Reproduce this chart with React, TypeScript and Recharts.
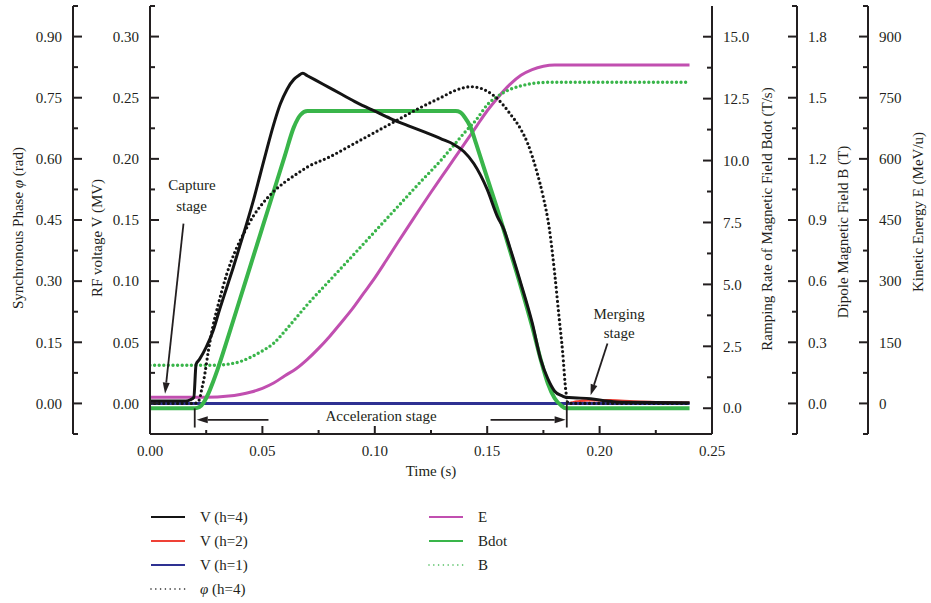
import { ComposedChart, Line, XAxis, YAxis, Legend, ReferenceLine, ReferenceDot } from 'recharts'

const INK = '#231f20'
const FONT = "'Liberation Serif', 'DejaVu Serif', serif"

// axis ticks (major); minor ticks sit halfway between
const TIME_TICKS = [0, 0.05, 0.1, 0.15, 0.2, 0.25]
const VOLT_TICKS = [0, 0.05, 0.1, 0.15, 0.2, 0.25, 0.3]
const PHASE_TICKS = [0, 0.15, 0.3, 0.45, 0.6, 0.75, 0.9]
const BDOT_TICKS = [0, 2.5, 5, 7.5, 10, 12.5, 15]
const FIELD_TICKS = [0, 0.3, 0.6, 0.9, 1.2, 1.5, 1.8]
const ENERGY_TICKS = [0, 150, 300, 450, 600, 750, 900]

// V (h=4), MV
const V4_T = [0, 0.016, 0.018, 0.0195, 0.0205, 0.022, 0.025, 0.028, 0.031, 0.034, 0.037, 0.04, 0.043, 0.046, 0.049, 0.052, 0.055, 0.058, 0.061, 0.064, 0.066, 0.068, 0.07, 0.077, 0.085, 0.092, 0.1, 0.107, 0.115, 0.122, 0.13, 0.135, 0.1396, 0.1441, 0.15, 0.1545, 0.1575, 0.16, 0.165, 0.17, 0.1738, 0.177, 0.18, 0.1835, 0.185, 0.19, 0.196, 0.2035, 0.21, 0.24]
const V4 = [0.002, 0.002, 0.003, 0.005, 0.032, 0.036, 0.046, 0.059, 0.077, 0.094, 0.111, 0.129, 0.147, 0.166, 0.187, 0.208, 0.228, 0.245, 0.257, 0.265, 0.268, 0.27, 0.268, 0.261, 0.253, 0.246, 0.239, 0.233, 0.227, 0.222, 0.216, 0.212, 0.206, 0.196, 0.175, 0.153, 0.142, 0.128, 0.098, 0.066, 0.036, 0.02, 0.01, 0.006, 0.005, 0.0045, 0.0038, 0.002, 0.001, 0.0005]

// V (h=2), MV
const V2_T = [0, 0.185, 0.19, 0.196, 0.205, 0.215, 0.225, 0.24]
const V2 = [0, 0, 0.0015, 0.0025, 0.0025, 0.0015, 0.001, 0.0005]

// V (h=1), MV
const V1_T = [0, 0.24]
const V1 = [0, 0]

// synchronous phase (h=4), rad
const PHI_T = [0, 0.02, 0.021, 0.022, 0.023, 0.024, 0.026, 0.028, 0.03, 0.034, 0.038, 0.042, 0.046, 0.05, 0.055, 0.06, 0.065, 0.07, 0.08, 0.09, 0.1, 0.11, 0.12, 0.13, 0.135, 0.14, 0.1426, 0.145, 0.15, 0.155, 0.16, 0.165, 0.168, 0.172, 0.175, 0.1775, 0.18, 0.182, 0.1835, 0.185, 0.186, 0.24]
const PHI = [0, 0, 0.003, 0.01, 0.035, 0.06, 0.13, 0.19, 0.235, 0.315, 0.375, 0.42, 0.46, 0.49, 0.52, 0.543, 0.562, 0.58, 0.605, 0.635, 0.665, 0.695, 0.725, 0.752, 0.766, 0.775, 0.777, 0.776, 0.766, 0.745, 0.712, 0.672, 0.638, 0.57, 0.505, 0.434, 0.32, 0.21, 0.13, 0.03, 0, 0]

// kinetic energy, MeV/u
const E_T = [0, 0.02, 0.03, 0.035, 0.04, 0.045, 0.05, 0.055, 0.06, 0.065, 0.07, 0.075, 0.08, 0.085, 0.09, 0.095, 0.1, 0.105, 0.11, 0.115, 0.12, 0.125, 0.13, 0.135, 0.14, 0.145, 0.15, 0.155, 0.16, 0.165, 0.17, 0.175, 0.18, 0.24]
const E = [15, 15, 16, 18, 22, 28, 37, 50, 68, 85, 108, 135, 165, 198, 232, 270, 308, 350, 393, 435, 477, 518, 558, 598, 638, 678, 718, 752, 782, 805, 819, 827, 830, 830]

// Bdot, T/s
const BDOT_T = [0, 0.02, 0.022, 0.024, 0.026, 0.028, 0.03, 0.035, 0.04, 0.045, 0.05, 0.055, 0.06, 0.064, 0.067, 0.07, 0.136, 0.138, 0.14, 0.1426, 0.145, 0.15, 0.155, 0.16, 0.165, 0.17, 0.174, 0.177, 0.18, 0.183, 0.185, 0.24]
const BDOT = [0, 0, 0.05, 0.25, 0.6, 1.05, 1.55, 2.95, 4.4, 5.85, 7.3, 8.75, 10.2, 11.35, 11.85, 12, 12, 11.95, 11.75, 11.35, 10.7, 9.3, 7.9, 6.4, 4.9, 3.3, 1.9, 1.0, 0.4, 0.1, 0, 0]

// dipole field B, T
const B_T = [0, 0.028, 0.03, 0.035, 0.04, 0.045, 0.05, 0.055, 0.06, 0.065, 0.07, 0.08, 0.09, 0.1, 0.11, 0.12, 0.13, 0.135, 0.14, 0.145, 0.15, 0.155, 0.16, 0.165, 0.17, 0.175, 0.18, 0.24]
const B = [0.187, 0.187, 0.188, 0.193, 0.205, 0.228, 0.258, 0.295, 0.355, 0.42, 0.485, 0.604, 0.723, 0.843, 0.963, 1.083, 1.2, 1.265, 1.33, 1.39, 1.465, 1.51, 1.54, 1.558, 1.57, 1.575, 1.576, 1.576]

const pairs = (ts: number[], vs: number[]) => ts.map((t, i) => ({ t, v: vs[i] }))

// axis ids are sorted by name when stacked, so the prefix sets the order (nearest the plot first)
const AX_VOLT = 'l1_volt'
const AX_PHASE = 'l2_phase'
const AX_BDOT = 'r1_bdot'
const AX_FIELD = 'r2_field'
const AX_ENERGY = 'r3_energy'

const SERIES = [
  { id: 'v2', name: 'V (h=2)', axis: AX_VOLT, data: pairs(V2_T, V2), color: '#ef4136', width: 2.5 },
  { id: 'v1', name: 'V (h=1)', axis: AX_VOLT, data: pairs(V1_T, V1), color: '#2e3192', width: 3 },
  { id: 'e', name: 'E', axis: AX_ENERGY, data: pairs(E_T, E), color: '#c14fb0', width: 3 },
  { id: 'b', name: 'B', axis: AX_FIELD, data: pairs(B_T, B), color: '#39b54a', width: 3.4, dots: true },
  { id: 'bdot', name: 'Bdot', axis: AX_BDOT, data: pairs(BDOT_T, BDOT), color: '#39b54a', width: 4 },
  { id: 'v4', name: 'V (h=4)', axis: AX_VOLT, data: pairs(V4_T, V4), color: '#141414', width: 3 },
  { id: 'phi', name: 'φ (h=4)', axis: AX_PHASE, data: pairs(PHI_T, PHI), color: '#141414', width: 3.2, dots: true },
]

const LEGEND_LEFT = ['v4', 'v2', 'v1', 'phi']
const LEGEND_RIGHT = ['e', 'bdot', 'b']

function withMinor(majors: number[], domain: number[]) {
  const half = (majors[1] - majors[0]) / 2
  const all = [majors[0] - half]
  majors.forEach((m) => all.push(m, m + half))
  return all.filter((v) => v >= domain[0] - 1e-9 && v <= domain[1] + 1e-9)
}

const isMajor = (majors: number[], v: number) => majors.some((m) => Math.abs(m - v) < 1e-9)

const yTick = (side: 'left' | 'right', majors: number[], digits: number) => (props: any) => {
  const { x, y, payload } = props
  const v = payload.value
  const major = isMajor(majors, v)
  const dir = side === 'left' ? 1 : -1
  return (
    <g>
      <line x1={x} y1={y} x2={x + dir * (major ? 9 : 5)} y2={y} stroke={INK} strokeWidth={2} />
      {major && (
        <text
          x={side === 'left' ? x - 11 : x + 11}
          y={y}
          dy="0.35em"
          textAnchor={side === 'left' ? 'end' : 'start'}
          fontSize={15}
          fontFamily={FONT}
          fill={INK}
        >
          {v.toFixed(digits)}
        </text>
      )}
    </g>
  )
}

const xTick = (props: any) => {
  const { x, y, payload } = props
  const major = isMajor(TIME_TICKS, payload.value)
  return (
    <g>
      <line x1={x} y1={y} x2={x} y2={y - (major ? 8 : 4)} stroke={INK} strokeWidth={2} />
      {major && (
        <text x={x} y={y + 17} dy="0.35em" textAnchor="middle" fontSize={15} fontFamily={FONT} fill={INK}>
          {payload.value.toFixed(2)}
        </text>
      )}
    </g>
  )
}

const axisTitle = (text: any, dx: number, dy: number) => (props: any) => {
  const vb = props.viewBox
  const cx = vb.x + dx
  const cy = vb.y + vb.height / 2 + dy
  return (
    <text
      x={cx}
      y={cy}
      transform={`rotate(-90 ${cx} ${cy})`}
      textAnchor="middle"
      dominantBaseline="central"
      fontSize={15}
      fontFamily={FONT}
      fill={INK}
    >
      {text}
    </text>
  )
}

const Arrow = (props: any) => {
  const { x1, y1, x2, y2 } = props
  const a = Math.atan2(y2 - y1, x2 - x1)
  const len = 11
  const w = 3.5
  const bx = x2 - len * Math.cos(a)
  const by = y2 - len * Math.sin(a)
  const pts = [
    [x2, y2],
    [bx + w * Math.sin(a), by - w * Math.cos(a)],
    [bx - w * Math.sin(a), by + w * Math.cos(a)],
  ]
  return (
    <g>
      <line x1={x1} y1={y1} x2={bx} y2={by} stroke={INK} strokeWidth={1.8} />
      <polygon points={pts.map((p) => p.join(',')).join(' ')} fill={INK} />
    </g>
  )
}

const Bar = (props: any) => <line x1={props.x1} y1={props.y1} x2={props.x2} y2={props.y2} stroke={INK} strokeWidth={1.8} />

// annotations in data units (time, MV)
const ARROWS = [
  [[0.0149, 0.147], [0.0067, 0.008]],
  [[0.0527, -0.0134], [0.0208, -0.0134]],
  [[0.1515, -0.0134], [0.1849, -0.0134]],
  [[0.2035, 0.049], [0.196, 0.0066]],
]
const BARS = [
  [[0.0199, -0.0041], [0.0199, -0.0197]],
  [[0.1854, 0.0025], [0.1854, -0.0197]],
]
const NOTES = [
  { t: 0.0187, v: 0.1787, text: 'Capture' },
  { t: 0.0185, v: 0.162, text: 'stage' },
  { t: 0.1028, v: -0.0098, text: 'Acceleration stage' },
  { t: 0.2087, v: 0.0735, text: 'Merging' },
  { t: 0.2087, v: 0.0578, text: 'stage' },
]

const noteShape = (text: string) => (p: any) => (
  <text x={p.cx} y={p.cy} dy="0.35em" textAnchor="middle" fontSize={15} fontFamily={FONT} fill={INK}>
    {text}
  </text>
)

const LegendBox = () => {
  const find = (id: string) => SERIES.find((s) => s.id === id)!
  const row = (id: string, i: number, x0: number) => {
    const s = find(id)
    const y = 17 + i * 24
    return (
      <g key={id}>
        <line
          x1={x0}
          y1={y}
          x2={x0 + 34}
          y2={y}
          stroke={s.color}
          strokeWidth={s.dots ? 1.6 : 2}
          strokeDasharray={s.dots ? '0 4.8' : undefined}
          strokeLinecap={s.dots ? 'round' : 'butt'}
        />
        <text x={x0 + 49} y={y} dy="0.35em" fontSize={15} fontFamily={FONT} fill={INK}>
          {id === 'phi' ? (
            <>
              <tspan fontStyle="italic">φ</tspan> (h=4)
            </>
          ) : (
            s.name
          )}
        </text>
      </g>
    )
  }
  return (
    <svg width={931} height={100}>
      {LEGEND_LEFT.map((id, i) => row(id, i, 151))}
      {LEGEND_RIGHT.map((id, i) => row(id, i, 429))}
    </svg>
  )
}

export default function App() {
  const voltDomain = [-0.025, 0.325]
  const phaseDomain = [-0.075, 0.975]
  const bdotDomain = [-1.04, 16.24]
  const fieldDomain = [-0.15, 1.95]
  const energyDomain = [-75, 975]
  const timeDomain = [0, 0.25]

  return (
    <div style={{ position: 'absolute', left: 0, top: 0, fontFamily: FONT, background: '#fff' }}>
      <ComposedChart width={931} height={603} margin={{ top: 6, right: 0, bottom: 119, left: 0 }}>
        <XAxis
          dataKey="t"
          type="number"
          domain={timeDomain}
          allowDataOverflow
          ticks={withMinor(TIME_TICKS, timeDomain)}
          interval={0}
          tick={xTick}
          tickLine={false}
          tickSize={0}
          tickMargin={0}
          height={50}
          axisLine={{ stroke: INK, strokeWidth: 2 }}
          label={(p: any) => (
            <text
              x={p.viewBox.x + p.viewBox.width / 2}
              y={p.viewBox.y + 37}
              dy="0.35em"
              textAnchor="middle"
              fontSize={15}
              fontFamily={FONT}
              fill={INK}
            >
              Time (s)
            </text>
          )}
        />
        <XAxis
          xAxisId="top"
          orientation="top"
          type="number"
          domain={timeDomain}
          height={0}
          tick={false}
          tickLine={false}
          axisLine={{ stroke: INK, strokeWidth: 2 }}
        />
        <YAxis
          yAxisId={AX_VOLT}
          orientation="left"
          type="number"
          width={77}
          domain={voltDomain}
          allowDataOverflow
          ticks={withMinor(VOLT_TICKS, voltDomain)}
          interval={0}
          tick={yTick('left', VOLT_TICKS, 2)}
          tickLine={false}
          tickSize={0}
          tickMargin={0}
          axisLine={{ stroke: INK, strokeWidth: 2 }}
          label={axisTitle('RF voltage V (MV)', 24, 18)}
        />
        <YAxis
          yAxisId={AX_PHASE}
          orientation="left"
          type="number"
          width={73}
          domain={phaseDomain}
          allowDataOverflow
          ticks={withMinor(PHASE_TICKS, phaseDomain)}
          interval={0}
          tick={yTick('left', PHASE_TICKS, 2)}
          tickLine={false}
          tickSize={0}
          tickMargin={0}
          axisLine={{ stroke: INK, strokeWidth: 2 }}
          label={axisTitle(
            <>
              Synchronous Phase <tspan fontStyle="italic">φ</tspan> (rad)
            </>,
            18,
            8
          )}
        />
        <YAxis
          yAxisId={AX_BDOT}
          orientation="right"
          type="number"
          width={85}
          domain={bdotDomain}
          allowDataOverflow
          ticks={withMinor(BDOT_TICKS, bdotDomain)}
          interval={0}
          tick={yTick('right', BDOT_TICKS, 1)}
          tickLine={false}
          tickSize={0}
          tickMargin={0}
          axisLine={{ stroke: INK, strokeWidth: 2 }}
          label={axisTitle('Ramping Rate of Magnetic Field Bdot (T/s)', 55, -1)}
        />
        <YAxis
          yAxisId={AX_FIELD}
          orientation="right"
          type="number"
          width={71}
          domain={fieldDomain}
          allowDataOverflow
          ticks={withMinor(FIELD_TICKS, fieldDomain)}
          interval={0}
          tick={yTick('right', FIELD_TICKS, 1)}
          tickLine={false}
          tickSize={0}
          tickMargin={0}
          axisLine={{ stroke: INK, strokeWidth: 2 }}
          label={axisTitle('Dipole Magnetic Field B (T)', 46, 12)}
        />
        <YAxis
          yAxisId={AX_ENERGY}
          orientation="right"
          type="number"
          width={63}
          domain={energyDomain}
          allowDataOverflow
          ticks={withMinor(ENERGY_TICKS, energyDomain)}
          interval={0}
          tick={yTick('right', ENERGY_TICKS, 0)}
          tickLine={false}
          tickSize={0}
          tickMargin={0}
          axisLine={{ stroke: INK, strokeWidth: 2 }}
          label={axisTitle('Kinetic Energy E (MeV/u)', 50, -8)}
        />

        {SERIES.map((s) => (
          <Line
            key={s.id}
            data={s.data}
            dataKey="v"
            name={s.name}
            yAxisId={s.axis}
            type="monotone"
            stroke={s.color}
            strokeWidth={s.width}
            strokeDasharray={s.dots ? '0 4.6' : undefined}
            strokeLinecap={s.dots ? 'round' : 'butt'}
            dot={false}
            activeDot={false}
            isAnimationActive={false}
          />
        ))}

        {ARROWS.map((seg, i) => (
          <ReferenceLine
            key={'a' + i}
            yAxisId={AX_VOLT}
            segment={seg.map(([t, v]) => ({ x: t, y: v }))}
            shape={Arrow}
            ifOverflow="visible"
          />
        ))}
        {BARS.map((seg, i) => (
          <ReferenceLine
            key={'b' + i}
            yAxisId={AX_VOLT}
            segment={seg.map(([t, v]) => ({ x: t, y: v }))}
            shape={Bar}
            ifOverflow="visible"
          />
        ))}
        {NOTES.map((n, i) => (
          <ReferenceDot
            key={'n' + i}
            yAxisId={AX_VOLT}
            x={n.t}
            y={n.v}
            r={0}
            shape={noteShape(n.text)}
            ifOverflow="visible"
          />
        ))}

        <Legend
          layout="horizontal"
          verticalAlign="middle"
          align="center"
          wrapperStyle={{ position: 'absolute', top: 500, left: 0, width: 931, height: 100 }}
          content={() => <LegendBox />}
        />
      </ComposedChart>
    </div>
  )
}
